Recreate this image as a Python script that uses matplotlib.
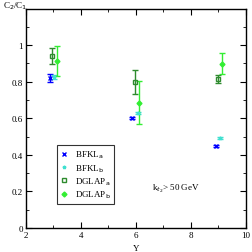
import matplotlib
matplotlib.use("Agg")
import matplotlib.pyplot as plt
from matplotlib.lines import Line2D
from matplotlib.ticker import MultipleLocator

# ── data ─────────────────────────────────────────────────────────────────────
bfkl_a_x = [2.87, 5.84, 8.91]
bfkl_a_y = [0.82, 0.601, 0.45]
bfkl_a_err = [0.02, 0.005, 0.005]

bfkl_b_x = [3.02, 6.07, 9.07]
bfkl_b_y = [0.825, 0.628, 0.49]
bfkl_b_err = [0.012, 0.005, 0.005]

dglap_a_x = [2.93, 5.96, 8.97]
dglap_a_y = [0.94, 0.80, 0.815]
dglap_a_err = [0.045, 0.065, 0.02]

dglap_b_x = [3.13, 6.12, 9.12]
dglap_b_y = [0.915, 0.685, 0.898]
dglap_b_err = [0.083, 0.117, 0.057]

plt.rcParams["font.family"] = ["Liberation Serif", "DejaVu Serif"]

fig = plt.figure(figsize=(2.52, 2.53), dpi=100)
ax = fig.add_axes([0.103, 0.095, 0.873, 0.867])

series = [
    (bfkl_a_x, bfkl_a_y, bfkl_a_err, "x", "#0000ff", "#0000ff", r"BFKL$_{\rm a}$"),
    (bfkl_b_x, bfkl_b_y, bfkl_b_err, "*", "#40e0d0", "#40e0d0", r"BFKL$_{\rm b}$"),
    (dglap_a_x, dglap_a_y, dglap_a_err, "s", "#2e8b2e", "none", r"DGLAP$_{\rm a}$"),
    (dglap_b_x, dglap_b_y, dglap_b_err, "D", "#33ee33", "#33ee33", r"DGLAP$_{\rm b}$"),
]

handles = []
for x, y, err, mk, col, mfc, lab in series:
    ax.errorbar(x, y, yerr=err, marker=mk, color=col, mfc=mfc, linestyle="none",
                capsize=2.2, elinewidth=1.0, capthick=1.0, markersize=2.5)
    handles.append(Line2D([], [], marker=mk, color=col, mfc=mfc, linestyle="none",
                          markersize=2.5, label=lab))

ax.set_xlim(2, 10)
ax.set_ylim(0, 1.2)
ax.xaxis.set_major_locator(MultipleLocator(2))
ax.xaxis.set_minor_locator(MultipleLocator(1))
ax.yaxis.set_minor_locator(MultipleLocator(0.1))
ax.set_yticks([0, 0.2, 0.4, 0.6, 0.8, 1.0])
ax.set_yticklabels(["0", "0.2", "0.4", "0.6", "0.8", "1"])
ax.tick_params(which="both", direction="in", top=True, right=True, labelsize=6.5, pad=2)
ax.tick_params(which="major", length=4)
ax.tick_params(which="minor", length=2)
for s in ax.spines.values():
    s.set_linewidth(1.0)

ax.set_xlabel("Y", fontsize=6.5, labelpad=4)
fig.text(0.01, 0.975, r"C$_2$/C$_1$", fontsize=6.5, ha="left", va="center")
ax.text(6.6, 0.22, r"k$_{t_2}$> 50 GeV", fontsize=6.5, ha="left", va="center")

leg = ax.legend(handles=handles, loc="lower left", bbox_to_anchor=(0.14, 0.11),
                fontsize=6.5, frameon=True, fancybox=False, edgecolor="black",
                handlelength=0.9, handletextpad=0.7, borderpad=0.4,
                labelspacing=0.2, borderaxespad=0)
leg.get_frame().set_linewidth(0.8)

fig.savefig("out.png", dpi=100)
